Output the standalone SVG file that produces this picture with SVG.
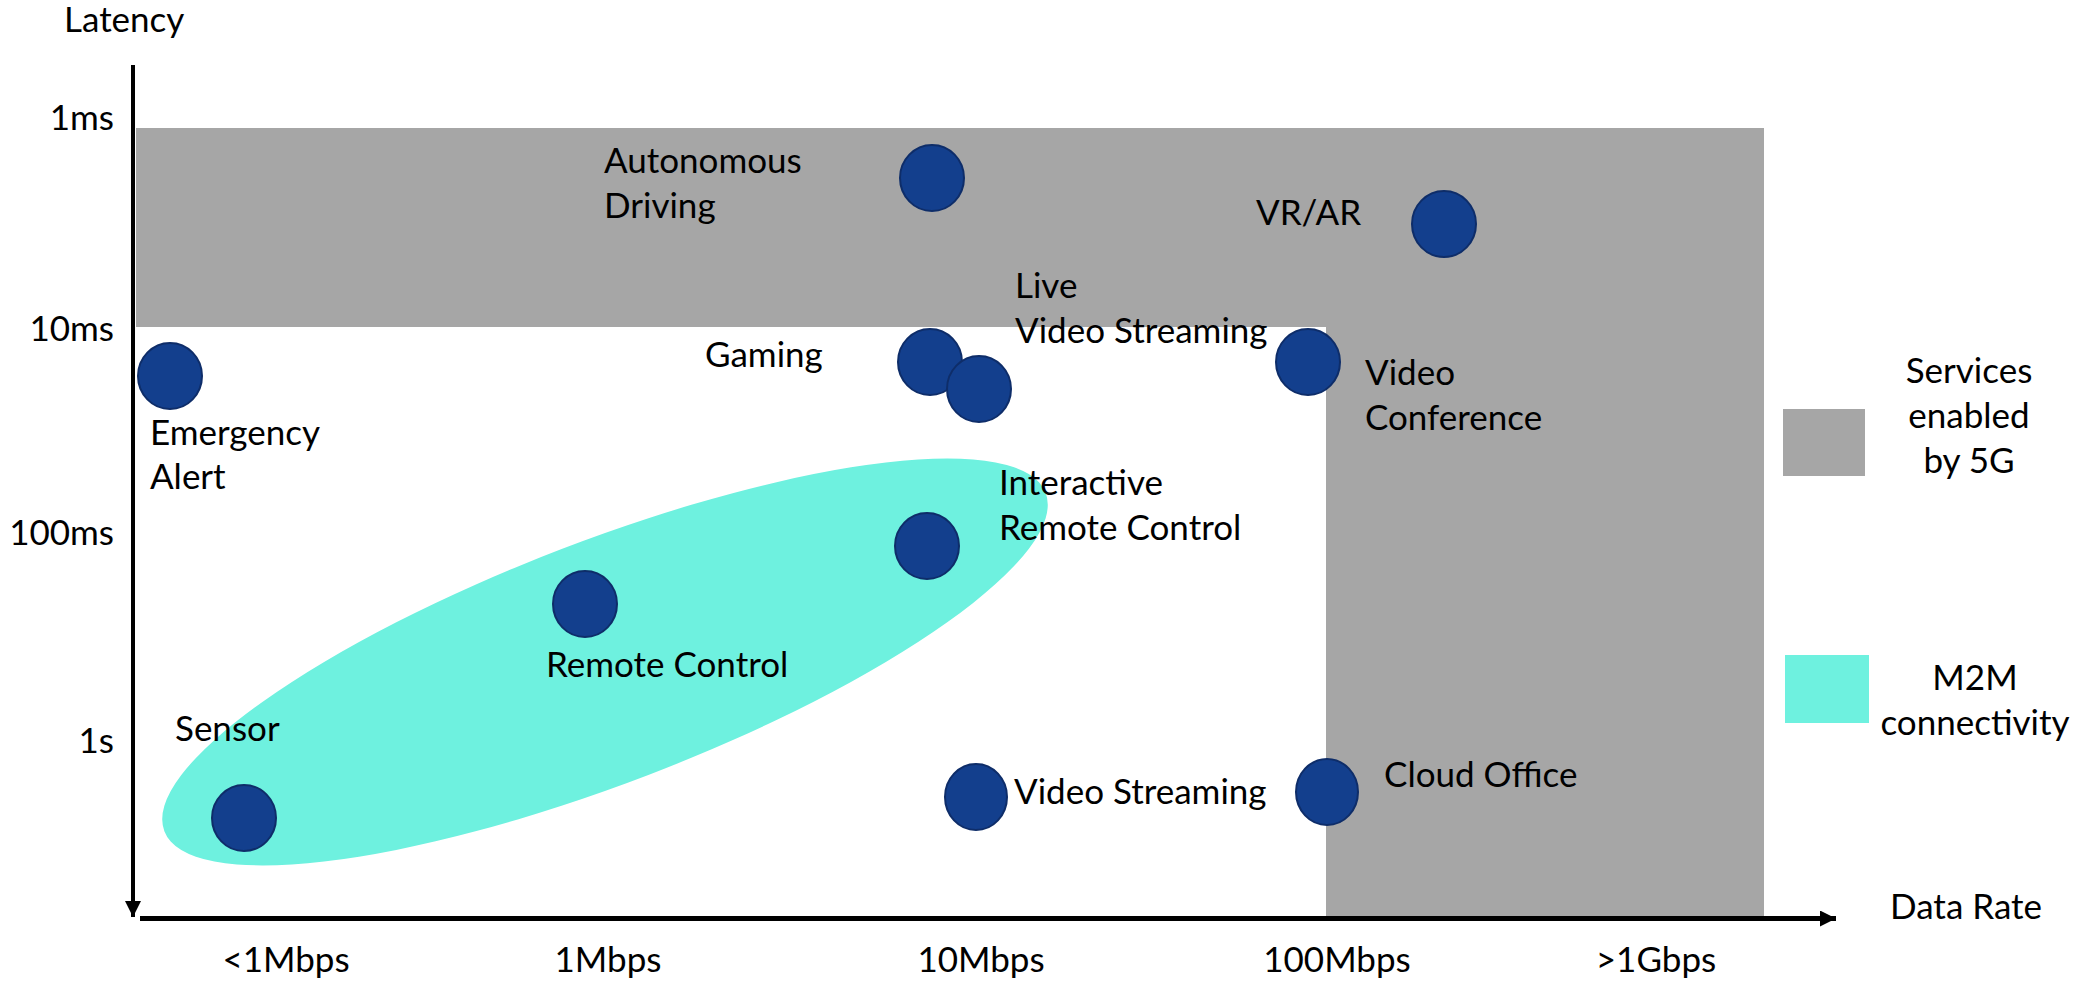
<svg xmlns="http://www.w3.org/2000/svg" width="2089" height="982" viewBox="0 0 2089 982">
  <style>
    text { font-family: Lato, "Open Sans", "Liberation Sans", sans-serif; font-size: 35px; fill: #000; }
    .tick { text-anchor: end; }
    .mid { text-anchor: middle; }
    .svc { fill: #133F8D; stroke: #0E2D69; stroke-width: 2; }
    .zone5g { fill: #A6A6A6; }
    .m2m { fill: #6EF1DF; }
  </style>
  <defs>
    <marker id="arrowHead" viewBox="0 0 16 16" refX="16" refY="8" markerWidth="16" markerHeight="16" markerUnits="userSpaceOnUse" orient="auto">
      <path d="M0,0 L16,8 L0,16 Z" fill="#000"/>
    </marker>
  </defs>

  <rect width="2089" height="982" fill="#fff"/>

  <!-- 5G-enabled region: top latency band plus high data-rate column -->
  <path id="region-5g" class="zone5g" d="M136,128 H1764 V917 H1326 V327 H136 Z"/>

  <!-- M2M connectivity region -->
  <ellipse id="region-m2m" class="m2m" cx="605" cy="662" rx="472" ry="121" transform="rotate(-21 605 662)"/>

  <!-- axes -->
  <g id="connectors">
    <line x1="133" y1="65" x2="133" y2="917" stroke="#000" stroke-width="4" marker-end="url(#arrowHead)"/>
    <line x1="140" y1="918.5" x2="1836" y2="918.5" stroke="#000" stroke-width="5" marker-end="url(#arrowHead)"/>
  </g>

  <!-- axis titles and tick labels -->
  <g id="axis-labels">
    <text x="64" y="32">Latency</text>
    <text class="tick" x="114" y="130">1ms</text>
    <text class="tick" x="114" y="341">10ms</text>
    <text class="tick" x="114" y="545">100ms</text>
    <text class="tick" x="114" y="753">1s</text>
    <text x="1890" y="919">Data Rate</text>
    <text class="mid" x="286" y="972">&lt;1Mbps</text>
    <text class="mid" x="608" y="972">1Mbps</text>
    <text class="mid" x="981" y="972">10Mbps</text>
    <text class="mid" x="1337" y="972">100Mbps</text>
    <text class="mid" x="1656" y="972">&gt;1Gbps</text>
  </g>

  <!-- services -->
  <g id="autonomous-driving">
    <ellipse class="svc" cx="932" cy="178" rx="32" ry="33"/>
    <text x="604" y="173">Autonomous</text>
    <text x="604" y="218">Driving</text>
  </g>
  <g id="vr-ar">
    <ellipse class="svc" cx="1444" cy="224" rx="32" ry="33"/>
    <text x="1256" y="225">VR/AR</text>
  </g>
  <g id="gaming">
    <ellipse class="svc" cx="930" cy="362" rx="32" ry="33"/>
    <text x="705" y="367">Gaming</text>
  </g>
  <g id="live-video-streaming">
    <ellipse class="svc" cx="979" cy="389" rx="32" ry="33"/>
    <text x="1015" y="298">Live</text>
    <text x="1015" y="343">Video Streaming</text>
  </g>
  <g id="video-conference">
    <ellipse class="svc" cx="1308" cy="362" rx="32" ry="33"/>
    <text x="1365" y="385">Video</text>
    <text x="1365" y="430">Conference</text>
  </g>
  <g id="emergency-alert">
    <ellipse class="svc" cx="170" cy="376" rx="32" ry="33"/>
    <text x="150" y="445">Emergency</text>
    <text x="150" y="489">Alert</text>
  </g>
  <g id="interactive-remote-control">
    <ellipse class="svc" cx="927" cy="546" rx="32" ry="33"/>
    <text x="999" y="495">Interactive</text>
    <text x="999" y="540">Remote Control</text>
  </g>
  <g id="remote-control">
    <ellipse class="svc" cx="585" cy="604" rx="32" ry="33"/>
    <text x="546" y="677">Remote Control</text>
  </g>
  <g id="sensor">
    <ellipse class="svc" cx="244" cy="818" rx="32" ry="33"/>
    <text x="175" y="741">Sensor</text>
  </g>
  <g id="video-streaming">
    <ellipse class="svc" cx="976" cy="797" rx="31" ry="33"/>
    <text x="1014" y="804">Video Streaming</text>
  </g>
  <g id="cloud-office">
    <ellipse class="svc" cx="1327" cy="792" rx="31" ry="33"/>
    <text x="1384" y="787">Cloud Office</text>
  </g>

  <!-- legend -->
  <g id="legend-5g">
    <rect class="zone5g" x="1783" y="409" width="82" height="67"/>
    <text class="mid" x="1969" y="383">Services</text>
    <text class="mid" x="1969" y="428">enabled</text>
    <text class="mid" x="1969" y="473">by 5G</text>
  </g>
  <g id="legend-m2m">
    <rect class="m2m" x="1785" y="655" width="84" height="68"/>
    <text class="mid" x="1975" y="690">M2M</text>
    <text class="mid" x="1975" y="735">connectivity</text>
  </g>
</svg>
